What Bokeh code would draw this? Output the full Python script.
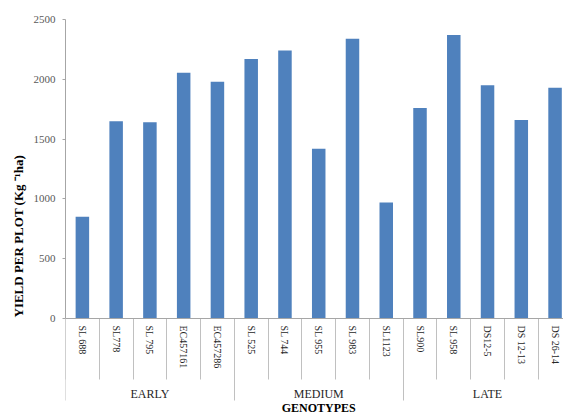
from bokeh.plotting import figure
from bokeh.models import LinearAxis, FixedTicker, Range1d, Title
from bokeh.embed import file_html
from bokeh.resources import INLINE

# ---- data ----
genotypes = ["SL 688", "SL778", "SL 795", "EC457161", "EC457286",
             "SL 525", "SL 744", "SL 955", "SL 983", "SL1123",
             "SL900", "SL 958", "DS12-5", "DS 12-13", "DS  26-14"]
yield_values = [850, 1650, 1640, 2055, 1980,
                2170, 2240, 1420, 2340, 970,
                1760, 2370, 1950, 1660, 1930]
groups = ["EARLY", "MEDIUM", "LATE"]
group_sizes = [5, 5, 5]
y_ticks = [0, 500, 1000, 1500, 2000, 2500]
x_title = "GENOTYPES"
y_title = "YIELD PER PLOT (Kg \u207b\u00b9ha)"

FONT = "Liberation Serif"
AXIS_GRAY = "#a6a6a6"
SEP_GRAY = "#c0c0c0"
TXT = "#262626"

idx = list(range(len(genotypes)))
cat_bounds = [i - 0.5 for i in range(len(genotypes) + 1)]
bounds = [-0.5]
centers = []
for s in group_sizes:
    centers.append(bounds[-1] + s / 2)
    bounds.append(bounds[-1] + s)

# layout: plot area 299 px tall for 0..2500, category band extends 96 px below 0
FRAME_PX = 299
BELOW_PX = 96
y_lo = -BELOW_PX * y_ticks[-1] / FRAME_PX

p = figure(width=563, height=414, output_backend="svg", toolbar_location=None,
           title=None, x_axis_location=None, y_axis_location="left",
           x_range=Range1d(-0.5, 14.25), y_range=Range1d(y_lo, y_ticks[-1]),
           min_border_left=65, min_border_top=19, min_border_right=0,
           min_border_bottom=0)
p.outline_line_color = None
p.grid.grid_line_color = None
p.background_fill_color = "white"
p.border_fill_color = "white"

p.vbar(x=idx, top=yield_values, bottom=0, width=0.4, fill_color="#4F81BD", line_color=None)

# y axis
ya = p.yaxis[0]
ya.bounds = (y_ticks[0], y_ticks[-1])
ya.ticker = FixedTicker(ticks=y_ticks, minor_ticks=[])
ya.axis_line_color = AXIS_GRAY
ya.major_tick_line_color = AXIS_GRAY
ya.major_tick_out = 3
ya.major_tick_in = 0
ya.minor_tick_line_color = None
ya.minor_tick_out = 0
ya.minor_tick_in = 0
ya.major_label_standoff = 7
ya.major_label_text_font = FONT
ya.major_label_text_font_size = "11px"
ya.major_label_text_color = "#595959"

yt = Title(text=y_title, align="left", vertical_align="top", offset=BELOW_PX + 1,
           standoff=5, text_font=FONT, text_font_size="13px", text_font_style="bold",
           text_color="black")
p.add_layout(yt, "left")


def cat_axis(ticks, labels, standoff=0, tick_out=0, size="11px", bold=False,
             vertical=False, line=False):
    ax = LinearAxis(ticker=FixedTicker(ticks=ticks, minor_ticks=[]),
                    major_label_overrides={t: l for t, l in zip(ticks, labels)},
                    fixed_location=0)
    ax.axis_line_color = AXIS_GRAY if line else None
    ax.major_tick_line_color = SEP_GRAY if tick_out else None
    ax.major_tick_out = tick_out
    ax.major_tick_in = 0
    ax.minor_tick_line_color = None
    ax.minor_tick_out = 0
    ax.minor_tick_in = 0
    ax.major_label_standoff = standoff
    ax.major_label_orientation = "vertical" if vertical else "horizontal"
    ax.major_label_text_font = FONT
    ax.major_label_text_font_size = size
    ax.major_label_text_color = "black" if bold else TXT
    ax.major_label_text_font_style = "bold" if bold else "normal"
    p.add_layout(ax, "below")
    return ax


# separators between genotypes and between groups
cat_axis(cat_bounds, [""] * len(cat_bounds), tick_out=61, size="0px")
cat_axis(bounds, [""] * len(bounds), tick_out=82, size="0px")
# genotype names
cat_axis(idx, genotypes, standoff=7, size="10px", vertical=True, line=True)
# maturity groups
cat_axis(centers, groups, standoff=68, size="12px")
# axis title (kept fully inside the picture)
cat_axis([centers[len(centers) // 2]], [x_title], standoff=82, size="12px", bold=True)

open("out.html", "w").write(file_html(p, INLINE))
